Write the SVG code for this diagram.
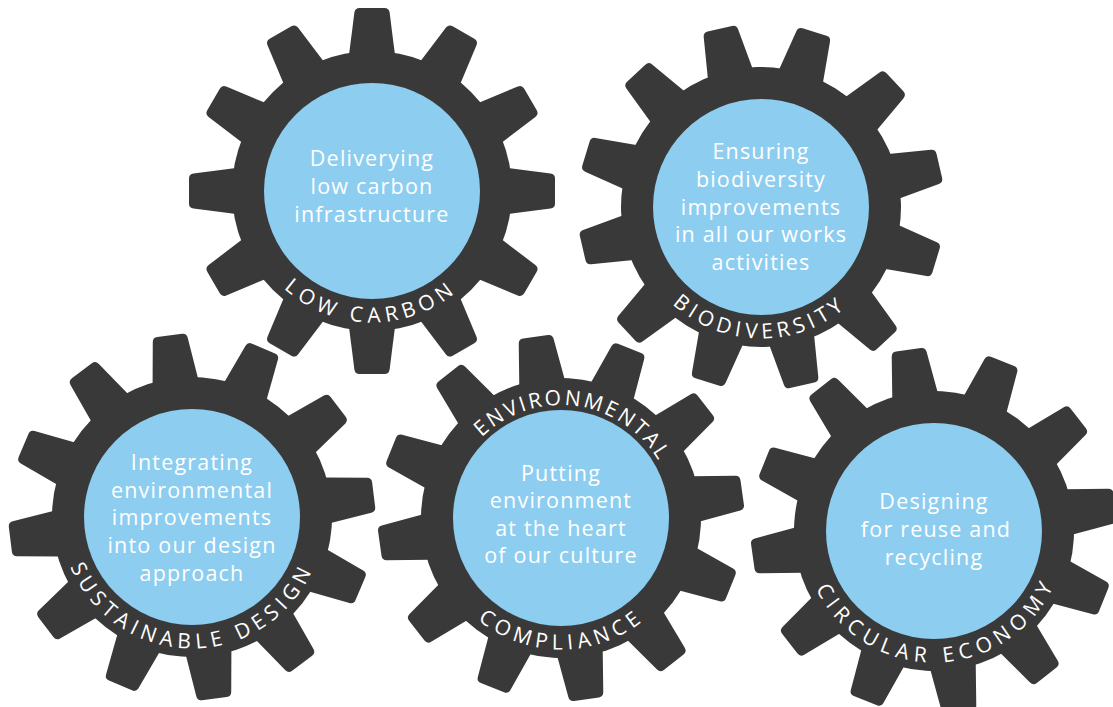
<svg xmlns="http://www.w3.org/2000/svg" xmlns:xlink="http://www.w3.org/1999/xlink" width="1113" height="707" viewBox="0 0 1113 707">
<style>
.gear{fill:#393939}
.hub{fill:#8dcdf0}
.body{font-family:"Open Sans","Liberation Sans",sans-serif;font-size:21.5px;letter-spacing:1.2px;fill:#ffffff;text-anchor:middle}
.ring{font-family:"Open Sans","Liberation Sans",sans-serif;font-size:21px;font-weight:500;fill:#ffffff;text-anchor:middle}
</style>
<defs>
<path id="tooth" d="M -23,-136 L -17.6,-178.5 Q -17,-183 -12.5,-183 L 12.5,-183 Q 17,-183 17.6,-178.5 L 23,-136 Z"/>
<g id="gear">
<circle r="140"/>
<use href="#tooth"/>
<use href="#tooth" transform="rotate(30)"/>
<use href="#tooth" transform="rotate(60)"/>
<use href="#tooth" transform="rotate(90)"/>
<use href="#tooth" transform="rotate(120)"/>
<use href="#tooth" transform="rotate(150)"/>
<use href="#tooth" transform="rotate(180)"/>
<use href="#tooth" transform="rotate(210)"/>
<use href="#tooth" transform="rotate(240)"/>
<use href="#tooth" transform="rotate(270)"/>
<use href="#tooth" transform="rotate(300)"/>
<use href="#tooth" transform="rotate(330)"/>
</g>
<path id="arcB" d="M -131.5 0 A 131.5 131.5 0 0 0 131.5 0"/>
<path id="arcT" d="M -113 0 A 113 113 0 0 1 113 0"/>
</defs>
<rect width="1113" height="707" fill="#ffffff"/>
<g id="connectors"/>
<g id="low-carbon" transform="translate(372,191)">
<use href="#gear" class="gear"/>
<circle r="108" class="hub"/>
<text class="body"><tspan x="0" y="-25">Deliverying</tspan><tspan x="0" y="3">low carbon</tspan><tspan x="0" y="31">infrastructure</tspan></text>
<g transform="rotate(0.5)"><text class="ring" style="letter-spacing:5.4px"><textPath href="#arcB" startOffset="50%">LOW CARBON</textPath></text></g>
</g>
<g id="biodiversity" transform="translate(761,207)">
<use href="#gear" class="gear" transform="rotate(-13)"/>
<circle r="108" class="hub"/>
<text class="body"><tspan x="0" y="-48">Ensuring</tspan><tspan x="0" y="-20">biodiversity</tspan><tspan x="0" y="7.5">improvements</tspan><tspan x="0" y="35">in all our works</tspan><tspan x="0" y="62.5">activities</tspan></text>
<g transform="rotate(0.5)"><text class="ring" style="letter-spacing:4.8px"><textPath href="#arcB" startOffset="50%">BIODIVERSITY</textPath></text></g>
</g>
<g id="sustainable-design" transform="translate(192,517)">
<use href="#gear" class="gear" transform="rotate(-7)"/>
<circle r="108" class="hub"/>
<text class="body"><tspan x="0" y="-47">Integrating</tspan><tspan x="0" y="-19.3">environmental</tspan><tspan x="0" y="8.4">improvements</tspan><tspan x="0" y="36">into our design</tspan><tspan x="0" y="63.6">approach</tspan></text>
<g transform="rotate(0.1)"><text class="ring" style="letter-spacing:5.3px"><textPath href="#arcB" startOffset="50%">SUSTAINABLE DESIGN</textPath></text></g>
</g>
<g id="environmental-compliance" transform="translate(561,518)">
<use href="#gear" class="gear" transform="rotate(-8)"/>
<circle r="108" class="hub"/>
<text class="body"><tspan x="0" y="-37">Putting</tspan><tspan x="0" y="-10">environment</tspan><tspan x="0" y="17.7">at the heart</tspan><tspan x="0" y="45">of our culture</tspan></text>
<g transform="rotate(8)"><text class="ring" style="letter-spacing:2.6px"><textPath href="#arcT" startOffset="50%">ENVIRONMENTAL</textPath></text></g>
<g transform="rotate(-0.3)"><text class="ring" style="letter-spacing:5.0px"><textPath href="#arcB" startOffset="50%">COMPLIANCE</textPath></text></g>
</g>
<g id="circular-economy" transform="translate(934,531)">
<use href="#gear" class="gear" transform="rotate(-8)"/>
<circle r="108" class="hub"/>
<text class="body"><tspan x="0" y="-22">Designing</tspan><tspan x="2" y="6">for reuse and</tspan><tspan x="0" y="34">recycling</tspan></text>
<g transform="rotate(-1.7)"><text class="ring" style="letter-spacing:5.9px"><textPath href="#arcB" startOffset="50%">CIRCULAR ECONOMY</textPath></text></g>
</g>
</svg>
